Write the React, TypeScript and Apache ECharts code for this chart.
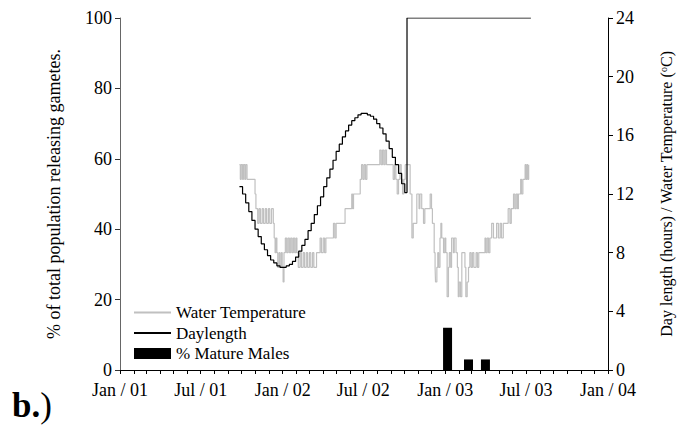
import React, { useEffect, useRef } from "react";
import * as echarts from "echarts";

// x values are days since 1 Jan 2001
const xMin = 0;
const xMax = 1095;
const xLabelDays = [0, 181, 365, 546, 730, 911, 1095];
const xLabels = ["Jan / 01", "Jul / 01", "Jan / 02", "Jul / 02", "Jan / 03", "Jul / 03", "Jan / 04"];

// Water temperature (°C), step changes: day -> value
const tempDays = [
  268, 270, 272, 275, 277, 280, 282, 285, 303, 305, 309, 312, 315, 319, 322, 326, 329, 333, 336, 340,
  344, 346, 348, 350, 352, 354, 357, 359, 362, 364, 366, 368, 371, 374, 377, 380, 383, 386, 389, 392,
  395, 397, 400, 404, 407, 411, 414, 418, 421, 425, 428, 432, 435, 441, 449, 452, 456, 459, 462, 479,
  482, 485, 505, 520, 522, 524, 539, 542, 545, 548, 551, 554, 583, 586, 589, 592, 595, 598, 613, 616,
  619, 622, 625, 628, 631, 634, 637, 640, 651, 655, 658, 666, 671, 673, 677, 681, 684, 696, 699, 701,
  705, 707, 708, 711, 713, 715, 718, 720, 722, 726, 729, 731, 734, 737, 739, 742, 744, 748, 750, 754,
  757, 759, 761, 764, 767, 774, 776, 779, 782, 785, 788, 791, 794, 799, 802, 805, 819, 821, 824, 827,
  830, 834, 838, 845, 849, 853, 856, 860, 871, 875, 878, 883, 886, 889, 892, 894, 899, 901, 904, 909,
  911, 913, 915, 917,
];
const tempValues = [
  14, 13, 14, 13, 14, 13, 14, 13, 12, 11, 10, 11, 10, 11, 10, 11, 10, 11, 10, 11,
  10, 9, 8, 9, 8, 7, 8, 7, 8, 7, 6, 8, 9, 8, 9, 8, 9, 8, 9, 8,
  9, 8, 7, 8, 7, 8, 7, 8, 7, 8, 7, 8, 7, 8, 9, 8, 9, 8, 9, 10,
  9, 10, 11, 12, 11, 12, 13, 14, 13, 14, 13, 14, 15, 14, 15, 14, 15, 14, 13, 14,
  13, 12, 13, 14, 13, 12, 13, 14, 12, 9, 10, 12, 11, 12, 11, 10, 11, 12, 11, 10,
  8, 7, 6, 7, 8, 7, 9, 10, 9, 8, 9, 8, 5, 7, 8, 7, 9, 8, 9, 8,
  7, 5, 6, 5, 8, 7, 5, 6, 7, 8, 7, 8, 7, 8, 7, 8, 9, 8, 9, 8,
  9, 10, 9, 10, 9, 10, 9, 10, 11, 10, 11, 12, 11, 12, 11, 12, 13, 12, 13, 14,
  13, 14, 13, 14,
];

// Daylength (hours), weekly readings from day 268
const dayLengthStart = 268;
const dayLengthWeekly = [
  12.5, 12.0, 11.4, 10.8, 10.2, 9.6, 9.1, 8.6, 8.2, 7.8, 7.5, 7.3, 7.1, 7.0, 7.0, 7.1, 7.2, 7.4, 7.7, 8.1,
  8.5, 8.9, 9.5, 10.0, 10.6, 11.2, 11.8, 12.5, 13.1, 13.7, 14.3, 14.9, 15.4, 15.9, 16.3, 16.7, 17.0, 17.2,
  17.4, 17.5, 17.5, 17.4, 17.3, 17.1, 16.8, 16.5, 16.1, 15.6, 15.1, 14.5, 14.0, 13.4, 12.7, 12.1,
];
const dayLengthTailDays = [644, 922];
const dayLengthTailValues = [24, 24];

// % Mature Males
const maleDays = [735, 782, 820];
const maleValues = [12, 3, 3];

const FONT = "'Liberation Serif', 'Times New Roman', serif";

export default function App() {
  const ref = useRef<HTMLDivElement>(null);

  useEffect(() => {
    document.body.style.margin = "0";
    if (!ref.current) return;
    const chart = echarts.init(ref.current, null, { renderer: "svg" });

    const tempData = tempDays.map((d, i) => [d, tempValues[i]]);
    const dayData = dayLengthWeekly.map((v, i) => [dayLengthStart + 7 * i, v]);
    dayLengthTailDays.forEach((d, i) => dayData.push([d, dayLengthTailValues[i]]));
    const maleData = maleDays.map((d, i) => [d, maleValues[i]]);

    const monthTicks: number[] = [];
    for (let y = 2001; y <= 2004; y++) {
      for (let m = 0; m < 12; m++) {
        const d = (Date.UTC(y, m, 1) - Date.UTC(2001, 0, 1)) / 864e5;
        if (d <= xMax) monthTicks.push(d);
      }
    }

    chart.setOption({
      animation: false,
      textStyle: { fontFamily: FONT },
      grid: { left: 120, right: 69, top: 18, bottom: 60, containLabel: false, outerBoundsMode: "none" },
      legend: {
        orient: "vertical",
        left: 128,
        top: 299,
        itemWidth: 37,
        itemHeight: 11,
        itemGap: 3.5,
        textStyle: { fontFamily: FONT, fontSize: 17, color: "#000" },
        data: [
          { name: "Water Temperature", itemStyle: { opacity: 0 } },
          { name: "Daylength", itemStyle: { opacity: 0 } },
          { name: "% Mature Males", icon: "rect" },
        ],
      },
      xAxis: {
        type: "value",
        min: xMin,
        max: xMax,
        splitLine: { show: false },
        axisLine: { lineStyle: { color: "#000", width: 1 } },
        axisTick: { show: true, length: 4, customValues: monthTicks, lineStyle: { color: "#000" } },
        axisLabel: {
          customValues: xLabelDays,
          showMinLabel: true,
          showMaxLabel: true,
          fontFamily: FONT,
          fontSize: 18,
          color: "#000",
          margin: 11,
          formatter: (v: number) => {
            const i = xLabelDays.indexOf(Math.round(v));
            return i >= 0 ? xLabels[i] : "";
          },
        },
      },
      yAxis: [
        {
          type: "value",
          position: "left",
          min: 0,
          max: 100,
          interval: 20,
          splitLine: { show: false },
          axisLine: { show: true, lineStyle: { color: "#666", width: 1 } },
          axisTick: { show: true, length: 5, lineStyle: { color: "#333" } },
          axisLabel: { fontFamily: FONT, fontSize: 18, color: "#000", margin: 8 },
          name: "% of total population releasing gametes.",
          nameLocation: "middle",
          nameGap: 57,
          nameTextStyle: { fontFamily: FONT, fontSize: 18, color: "#000" },
        },
        {
          type: "value",
          position: "right",
          min: 0,
          max: 24,
          interval: 4,
          splitLine: { show: false },
          axisLine: { show: true, lineStyle: { color: "#000", width: 1 } },
          axisTick: { show: true, length: 5, lineStyle: { color: "#000" } },
          axisLabel: { fontFamily: FONT, fontSize: 18, color: "#000", margin: 8 },
          name: "Day length (hours) / Water Temperature ({sup|o}C)",
          nameLocation: "middle",
          nameGap: 50,
          nameTextStyle: {
            fontFamily: FONT,
            fontSize: 16,
            lineHeight: 16,
            color: "#000",
            rich: {
              sup: { fontFamily: FONT, fontSize: 10, color: "#000", verticalAlign: "top", lineHeight: 16 },
            },
          },
        },
      ],
      series: [
        {
          name: "Water Temperature",
          type: "line",
          yAxisIndex: 1,
          step: "end",
          symbol: "none",
          data: tempData,
          lineStyle: { color: "#c0c0c0", width: 1.2 },
          itemStyle: { color: "#c0c0c0" },
        },
        {
          name: "Daylength",
          type: "line",
          yAxisIndex: 1,
          step: "end",
          symbol: "none",
          data: dayData,
          lineStyle: { color: "#000", width: 1.2 },
          itemStyle: { color: "#000" },
        },
        {
          name: "% Mature Males",
          type: "bar",
          yAxisIndex: 0,
          barWidth: 9,
          data: maleData,
          itemStyle: { color: "#000" },
        },
      ],
      graphic: [
        {
          type: "text",
          left: 12,
          top: 388,
          style: {
            text: "{b|b.}{r|)}",
            rich: {
              b: { fontFamily: FONT, fontSize: 35, fontWeight: "bold", fill: "#000" },
              r: { fontFamily: FONT, fontSize: 35, fill: "#000" },
            },
          },
        },
      ],
    });

    return () => chart.dispose();
  }, []);

  return <div ref={ref} style={{ width: 677, height: 430 }} />;
}
